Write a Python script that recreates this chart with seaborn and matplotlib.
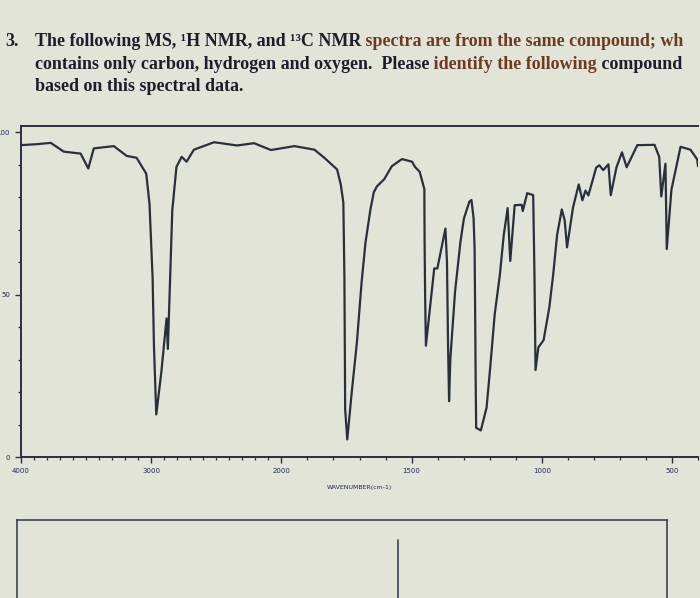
import numpy as np
import pandas as pd
import matplotlib
matplotlib.use("Agg")
import matplotlib.pyplot as plt
import seaborn as sns

# ---------------- data ----------------
wavenumber = [4000, 3878, 3771, 3672, 3542, 3483, 3441, 3287, 3189, 3112, 3038,
              3013, 2989, 2979, 2961, 2922, 2882, 2872, 2838, 2806, 2766, 2728,
              2672, 2517, 2340, 2210, 2080, 1950, 1873, 1835, 1786, 1772, 1762,
              1758, 1755, 1747, 1730, 1710, 1692, 1677, 1658, 1645, 1633, 1605,
              1576, 1537, 1498, 1487, 1469, 1451, 1450, 1448, 1445, 1413, 1401,
              1370, 1364, 1360, 1356, 1351, 1333, 1312, 1299, 1278, 1270, 1262,
              1258, 1256, 1254, 1252, 1234, 1212, 1198, 1181, 1161, 1146, 1131,
              1121, 1104, 1077, 1073, 1056, 1033, 1028, 1024, 1013, 993, 971, 956,
              941, 923, 912, 903, 880, 858, 844, 832, 821, 791, 779, 764, 744,
              735, 713, 692, 674, 633, 567, 549, 541, 525, 520, 502, 467, 429,
              403, 400]
transmittance = [96.1, 96.4, 96.8, 94.1, 93.5, 88.9, 95.1, 95.8, 92.8, 92.2, 87.3,
                 78.0, 55.0, 34.5, 13.1, 26.2, 42.7, 33.3, 76.0, 89.4, 92.5, 91.0,
                 94.7, 97.0, 96.0, 96.7, 94.6, 95.8, 94.7, 92.2, 88.6, 84.0, 78.4,
                 55.6, 14.6, 5.4, 19.8, 35.3, 53.8, 66.1, 76.3, 81.6, 83.4, 85.6,
                 89.6, 91.8, 91.0, 89.4, 87.9, 82.6, 66.4, 50.0, 34.3, 58.1, 58.1,
                 70.4, 60.0, 35.0, 17.2, 30.4, 51.0, 66.5, 73.5, 78.7, 79.2, 73.7,
                 64.4, 46.0, 25.0, 9.0, 8.2, 15.2, 27.6, 43.8, 56.1, 68.4, 76.7,
                 60.4, 77.6, 77.7, 75.8, 81.3, 80.7, 56.0, 26.8, 33.8, 36.0, 46.1,
                 56.3, 68.5, 76.3, 72.9, 64.6, 76.9, 84.0, 79.1, 82.1, 80.6, 89.2,
                 89.9, 88.4, 90.2, 80.7, 89.3, 93.9, 89.3, 96.1, 96.2, 92.5, 80.3,
                 90.4, 64.1, 82.4, 95.6, 94.7, 91.7, 89.6]

x_ticks = [4000, 3000, 2000, 1500, 1000, 500]
x_tick_labels = ["4000", "3000", "2000", "1500", "1000", "500"]
y_ticks = [0, 50, 100]
y_tick_labels = ["0", "50", "100"]
x_label = "WAVENUMBER(cm-1)"

title_line1 = [("The following MS, \u00b9H NMR, and \u00b9\u00b3C NMR", "dark"),
               (" spectra are from the same compound; wh", "brown")]
title_line2 = [("contains only carbon, hydrogen and oxygen.  Please", "dark"),
               (" identify the following", "brown"),
               (" compound", "dark")]
title_line3 = [("based on this spectral data.", "dark")]
question_number = "3."

# ---------------- styling ----------------
sns.set_theme(style="ticks")
plt.rcParams["font.family"] = ["DejaVu Sans"]

BG = "#e2e4d8"
INK = "#2a2f3d"
LABEL = "#1f2a55"
COLORS = {"dark": "#1d1d2b", "brown": "#6e3b22"}

fig = plt.figure(figsize=(7.0, 5.98), dpi=100, facecolor=BG)

# ---------------- spectrum axes ----------------
ax = fig.add_axes([21 / 700, 1 - 457 / 598, 677 / 700, 331 / 598])
ax.set_facecolor(BG)

df = pd.DataFrame({"wn": wavenumber, "T": transmittance})
sns.lineplot(data=df, x="wn", y="T", sort=False, estimator=None,
             color=INK, linewidth=1.6, ax=ax)
for ln in ax.lines:
    ln.set_solid_joinstyle("round")
    ln.set_solid_capstyle("round")


def fwd(w):
    w = np.asarray(w, dtype=float)
    return np.where(w >= 2000, 2 + (w - 2000) / 1000.0, 2 - (2000 - w) / 500.0)


def inv(p):
    p = np.asarray(p, dtype=float)
    return np.where(p >= 2, 2000 + (p - 2) * 1000.0, 2000 - (2 - p) * 500.0)


ax.set_xscale("function", functions=(fwd, inv))
ax.set_xlim(4000, 400)
ax.set_ylim(0, 102)

ax.set_xticks(x_ticks, x_tick_labels)
ax.set_xticks(np.arange(400, 4000, 100), minor=True)
ax.set_yticks(y_ticks, y_tick_labels)
ax.set_yticks(np.arange(10, 100, 10), minor=True)

ax.tick_params(axis="both", which="major", direction="out", length=4, width=1.0,
               color=INK, labelsize=5, labelcolor=LABEL, pad=4)
ax.tick_params(axis="both", which="minor", direction="out", length=2.5, width=0.9,
               color=INK)
ax.set_xlabel(x_label, fontsize=4.5, color=LABEL, labelpad=8)
ax.set_ylabel("")

for side in ["top", "left", "bottom"]:
    ax.spines[side].set_color(INK)
    ax.spines[side].set_linewidth(1.4)
ax.spines["right"].set_visible(False)

# ---------------- second panel (partially visible box) ----------------
ax2 = fig.add_axes([17 / 700, -0.05, 650 / 700, (1 - 520 / 598) + 0.05])
ax2.set_facecolor("none")
ax2.set_xlim(0, 1)
ax2.set_ylim(0, 1)
ax2.set_xticks([])
ax2.set_yticks([])
for side in ["top", "left", "right"]:
    ax2.spines[side].set_color("#3b4152")
    ax2.spines[side].set_linewidth(1.2)
ax2.spines["bottom"].set_visible(False)
ax2.plot([0.586, 0.586], [0, 0.815], color="#3b4152", linewidth=1.2)

# ---------------- question text ----------------
font_kw = dict(family=["Liberation Serif", "DejaVu Serif"], weight="bold", fontsize=13)


def chain(segments, x_px, y_px):
    first, key = segments[0]
    t = fig.text(x_px / 700, 1 - y_px / 598, first, color=COLORS[key],
                 ha="left", va="bottom", **font_kw)
    for s, key in segments[1:]:
        t = ax.annotate(s, xy=(1, 0), xycoords=t, ha="left", va="bottom",
                        color=COLORS[key], annotation_clip=False, **font_kw)


fig.text(5 / 700, 1 - 50 / 598, question_number, color=COLORS["dark"],
         ha="left", va="bottom", **font_kw)
chain(title_line1, 35, 50)
chain(title_line2, 35, 73)
chain(title_line3, 35, 95)

fig.savefig("out.png", dpi=100, facecolor=BG)
